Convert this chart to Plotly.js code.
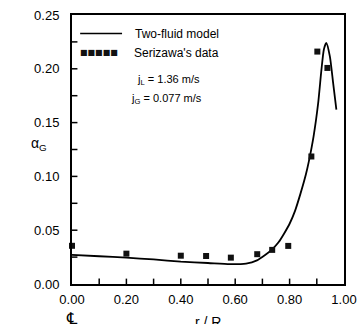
<!DOCTYPE html>
<html><head><meta charset="utf-8">
<script src="https://cdn.plot.ly/plotly-3.0.1.min.js"></script>
<style>html,body{margin:0;padding:0;background:#fff;}#chart{width:361px;height:324px;}</style>
</head><body><div id="chart"></div>
<script>
// Two-fluid model curve (r/R, alpha_G)
var modelX = [0.0, 0.1, 0.2, 0.3, 0.4, 0.5, 0.58, 0.64, 0.68, 0.71, 0.735, 0.76, 0.78, 0.8, 0.82, 0.84, 0.86, 0.87, 0.888, 0.905, 0.917, 0.926, 0.935, 0.948, 0.96, 0.972];
var modelY = [0.027, 0.0258, 0.0245, 0.0228, 0.0208, 0.0195, 0.0184, 0.0190, 0.0220, 0.0270, 0.0320, 0.0390, 0.0470, 0.0560, 0.0680, 0.0840, 0.1020, 0.1130, 0.1370, 0.1680, 0.1990, 0.2180, 0.2240, 0.2116, 0.1870, 0.1620];
// Serizawa's data
var dataX = [0.0, 0.2, 0.4, 0.493, 0.584, 0.681, 0.736, 0.795, 0.880, 0.902, 0.939];
var dataY = [0.0355, 0.0282, 0.0263, 0.0260, 0.0245, 0.0277, 0.0317, 0.0354, 0.1185, 0.2160, 0.2008];
// tick labels and tick mark positions
var xTicks = [0, 0.2, 0.4, 0.6, 0.8, 1.0];
var xTickText = ["0.00", "0.20", "0.40", "0.60", "0.80", "1.00"];
var xTickMarks = [0.1, 0.2, 0.3, 0.4, 0.5, 0.6, 0.7, 0.8, 0.9];
var yTicks = [0, 0.05, 0.10, 0.15, 0.20, 0.25];
var yTickText = ["0.00", "0.05", "0.10", "0.15", "0.20", "0.25"];
var yTickMarks = [0.025, 0.05, 0.075, 0.10, 0.125, 0.15, 0.175, 0.20, 0.225];

var F = "Liberation Sans, Arial, sans-serif";
var traces = [
  {x: modelX, y: modelY, type: "scatter", mode: "lines", line: {color: "#000", width: 1.8, shape: "spline", smoothing: 0.6}, showlegend: false, cliponaxis: false},
  {x: dataX, y: dataY, type: "scatter", mode: "markers", marker: {symbol: "square", size: 6, color: "#111"}, showlegend: false, cliponaxis: false}
];
var axBase = {showline: true, linewidth: 2, linecolor: "#000", mirror: true, ticks: "", showgrid: false, zeroline: false, tickfont: {family: F, size: 13, color: "#000"}};

var shapes = [
  {type: "line", xref: "x", yref: "y", x0: 0.03, x1: 0.184, y0: 0.2328, y1: 0.2328, line: {color: "#000", width: 1.5}}
];
xTickMarks.forEach(function (v) {
  shapes.push({type: "line", xref: "x", yref: "y", x0: v, x1: v, y0: 0, y1: 0.005, line: {color: "#000", width: 1.5}});
});
yTickMarks.forEach(function (v) {
  shapes.push({type: "line", xref: "x", yref: "y", y0: v, y1: v, x0: 0, x1: 0.02, line: {color: "#000", width: 1.5}});
});

var layout = {
  width: 361, height: 324,
  margin: {l: 72, r: 17, t: 15, b: 40},
  paper_bgcolor: "#fff", plot_bgcolor: "#fff",
  xaxis: Object.assign({}, axBase, {range: [0, 1.0], tickmode: "array", tickvals: xTicks, ticktext: xTickText, ticklabelstandoff: 2}),
  yaxis: Object.assign({}, axBase, {range: [0, 0.25], tickmode: "array", tickvals: yTicks, ticktext: yTickText, ticklabelstandoff: 8}),
  shapes: shapes,
  annotations: [
    {xref: "x", yref: "y", x: 0.225, y: 0.2328, text: "Two-fluid model", showarrow: false, xanchor: "left", yanchor: "middle", font: {family: F, size: 12, color: "#000"}},
    {xref: "x", yref: "y", x: 0.022, y: 0.2151, text: "■■■■■", showarrow: false, xanchor: "left", yanchor: "middle", font: {family: "DejaVu Sans", size: 8, color: "#111"}},
    {xref: "x", yref: "y", x: 0.222, y: 0.2151, text: "Serizawa's data", showarrow: false, xanchor: "left", yanchor: "middle", font: {family: F, size: 12, color: "#000"}},
    {xref: "x", yref: "y", x: 0.232, y: 0.1897, text: "j<sub>L</sub> = 1.36 m/s", showarrow: false, xanchor: "left", yanchor: "middle", font: {family: F, size: 11, color: "#000"}},
    {xref: "x", yref: "y", x: 0.21, y: 0.172, text: "j<sub>G</sub> = 0.077 m/s", showarrow: false, xanchor: "left", yanchor: "middle", font: {family: F, size: 11, color: "#000"}},
    {xref: "paper", yref: "paper", x: -0.123, y: 0.52, text: "α<sub>G</sub>", showarrow: false, xanchor: "center", yanchor: "middle", font: {family: F, size: 14, color: "#000"}},
    {xref: "paper", yref: "paper", x: 0.5, y: -0.105, text: "r / R", showarrow: false, xanchor: "center", yanchor: "top", font: {family: F, size: 14, color: "#000"}},
    {xref: "paper", yref: "paper", x: 0.0, y: -0.085, text: "℄", showarrow: false, xanchor: "center", yanchor: "top", font: {family: "DejaVu Sans", size: 16, color: "#000"}}
  ]
};
Plotly.newPlot("chart", traces, layout, {displayModeBar: false, staticPlot: true});
</script></body></html>
